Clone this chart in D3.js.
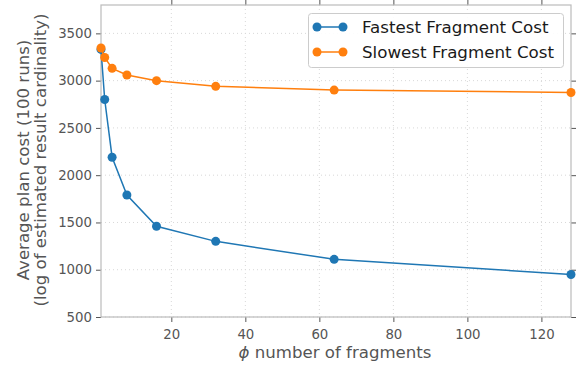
<!DOCTYPE html>
<html><head><meta charset="utf-8">
<script src="https://cdn.jsdelivr.net/npm/d3@7"></script>
<style>body{margin:0;background:#fff}svg{display:block}text{font-family:"DejaVu Sans",sans-serif}</style>
</head><body>
<svg id="c" width="581" height="372"></svg>
<script>
const fragments = [1, 2, 4, 8, 16, 32, 64, 128];
const fastestCost = [3330, 2800, 2190, 1790, 1460, 1300, 1110, 950];
const slowestCost = [3345, 3245, 3130, 3060, 3000, 2940, 2900, 2875];
const xTicks = [20, 40, 60, 80, 100, 120];
const yTicks = [500, 1000, 1500, 2000, 2500, 3000, 3500];
const seriesNames = ["Fastest Fragment Cost", "Slowest Fragment Cost"];
const colors = ["#1f77b4", "#ff7f0e"];

const svg = d3.select("#c");
const m = {l: 101, r: 571, t: 5, b: 317};
const x = d3.scaleLinear().domain([1, 128]).range([m.l, m.r]);
const y = d3.scaleLinear().domain([500, 3800]).range([m.b, m.t]);

// grid
const g = svg.append("g");
g.selectAll("line.gx").data(xTicks).join("line")
  .attr("x1", d => x(d)).attr("x2", d => x(d)).attr("y1", m.t).attr("y2", m.b)
  .attr("stroke", "#d8d8d8").attr("stroke-dasharray", "1,3");
g.selectAll("line.gy").data(yTicks).join("line")
  .attr("y1", d => y(d)).attr("y2", d => y(d)).attr("x1", m.l).attr("x2", m.r)
  .attr("stroke", "#d8d8d8").attr("stroke-dasharray", "1,3");

function styleAxis(sel, labels) {
  sel.attr("font-family", null).attr("font-size", null);
  sel.select(".domain").remove();
  sel.selectAll(".tick line").attr("stroke", "#555");
  sel.selectAll(".tick text").attr("fill", "#555").style("font-size", "13.3px");
  if (!labels) sel.selectAll(".tick text").remove();
}
const fmt = d3.format("d");
svg.append("g").attr("transform", `translate(0,${m.b})`)
  .call(d3.axisBottom(x).tickValues(xTicks).tickFormat(fmt).tickSize(5))
  .call(s => styleAxis(s, true))
  .call(s => s.selectAll(".tick text").attr("y", 22).attr("dy", 0));
svg.append("g").attr("transform", `translate(0,${m.t})`)
  .call(d3.axisTop(x).tickValues(xTicks).tickSize(5)).call(s => styleAxis(s, false));
svg.append("g").attr("transform", `translate(${m.l},0)`)
  .call(d3.axisLeft(y).tickValues(yTicks).tickFormat(fmt).tickSize(5).tickPadding(4)).call(s => styleAxis(s, true));
svg.append("g").attr("transform", `translate(${m.r},0)`)
  .call(d3.axisRight(y).tickValues(yTicks).tickSize(5)).call(s => styleAxis(s, false));

svg.append("rect").attr("x", m.l).attr("y", m.t).attr("width", m.r - m.l).attr("height", m.b - m.t)
  .attr("fill", "none").attr("stroke", "#bbb").attr("stroke-width", 1.2);

const line = d3.line().x(d => x(d[0])).y(d => y(d[1]));
[fastestCost, slowestCost].forEach((vals, i) => {
  const pts = fragments.map((f, j) => [f, vals[j]]);
  svg.append("path").attr("d", line(pts)).attr("fill", "none").attr("stroke", colors[i]).attr("stroke-width", 1.5);
  svg.append("g").selectAll("circle").data(pts).join("circle")
    .attr("cx", d => x(d[0])).attr("cy", d => y(d[1])).attr("r", 4.5).attr("fill", colors[i]);
});

// legend
const lg = svg.append("g");
lg.append("rect").attr("x", 308.5).attr("y", 13.5).attr("width", 255).attr("height", 54).attr("rx", 3)
  .attr("fill", "#fff").attr("fill-opacity", 0.9).attr("stroke", "#ccc");
seriesNames.forEach((n, i) => {
  const yy = 27 + i * 25;
  lg.append("line").attr("x1", 317).attr("x2", 343).attr("y1", yy).attr("y2", yy).attr("stroke", colors[i]).attr("stroke-width", 1.5);
  [317, 343].forEach(cx => lg.append("circle").attr("cx", cx).attr("cy", yy).attr("r", 4.5).attr("fill", colors[i]));
  lg.append("text").attr("x", 362).attr("y", yy + 6).style("font-size", "16.7px").attr("fill", "#1a1a1a").text(n);
});

// labels
svg.append("text").attr("x", 335).attr("y", 358).attr("text-anchor", "middle")
  .style("font-size", "16.6px").attr("fill", "#555")
  .html('<tspan font-style="italic">ϕ</tspan> number of fragments');
const yl = svg.append("text").attr("transform", `translate(0,160) rotate(-90)`)
  .attr("text-anchor", "middle").style("font-size", "16.6px").attr("fill", "#555");
yl.append("tspan").attr("x", 0).attr("y", 28.5).text("Average plan cost (100 runs)");
yl.append("tspan").attr("x", 0).attr("y", 46).text("(log of estimated result cardinality)");
</script>
</body></html>
